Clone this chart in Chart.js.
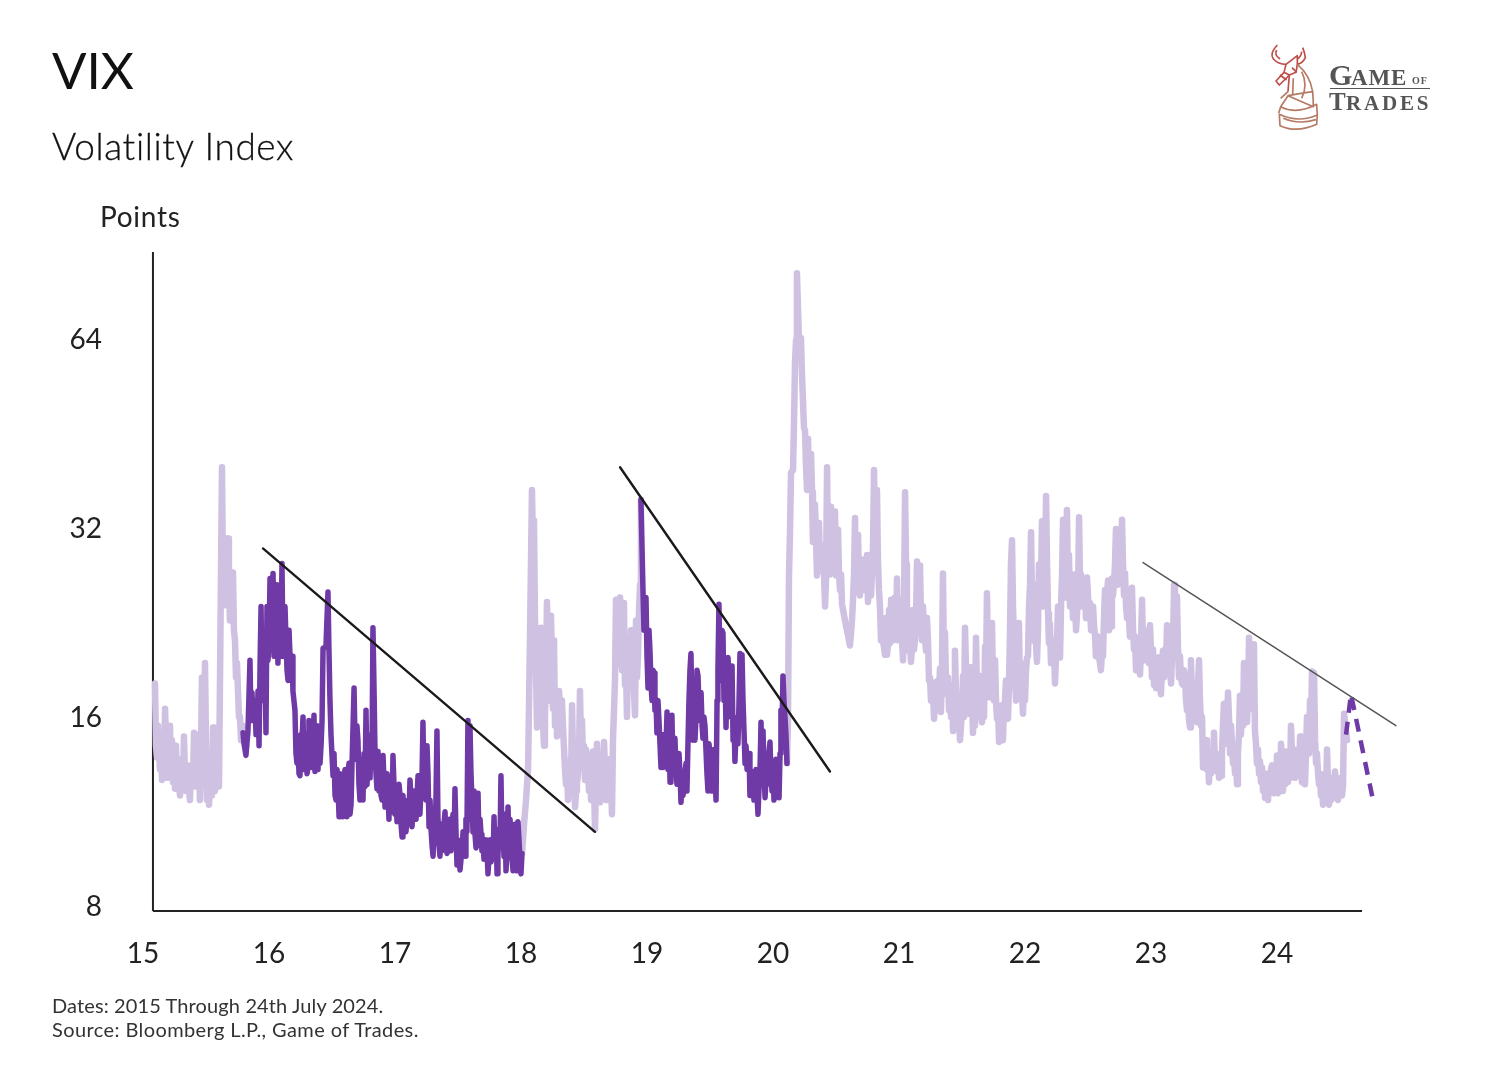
<!DOCTYPE html>
<html>
<head>
<meta charset="utf-8">
<title>VIX</title>
<script src="https://cdn.jsdelivr.net/npm/chart.js@4"></script>
<style>
    html, body { margin: 0; padding: 0; background: #fff; }
    body { width: 1510px; height: 1070px; position: relative; overflow: hidden; font-family: Lato, sans-serif; color: #111; font-variant-ligatures: none; }
    #wrap { position: absolute; left: 0; top: 0; width: 1510px; height: 1070px; }
    .txt { position: absolute; white-space: nowrap; line-height: 1; }
    #title { left: 52px; top: 44px; font-size: 51px; font-weight: 400; }
    #subtitle { left: 52px; top: 127px; font-size: 37px; font-weight: 300; letter-spacing: 0.6px; color: #111; -webkit-text-stroke: 0.3px #111; }
    #unit { left: 100px; top: 202px; font-size: 28px; font-weight: 400; letter-spacing: 0.7px; color: #222; }
    #note1 { left: 52px; top: 995px; font-size: 20px; color: #333; font-weight: 400; letter-spacing: 0.12px; }
    #note2 { left: 52px; top: 1019px; font-size: 20px; color: #333; font-weight: 400; letter-spacing: 0.4px; }
    .logo { font-family: "Liberation Serif", serif; color: #555; font-weight: bold; }
</style>
</head>
<body>
<div id="wrap"><canvas id="vixChart" width="1510" height="1070"></canvas></div>
<div class="txt" id="title">VIX</div>
<div class="txt" id="subtitle">Volatility Index</div>
<div class="txt" id="unit">Points</div>
<div class="txt" id="note1">Dates: 2015 Through 24th July 2024.</div>
<div class="txt" id="note2">Source: Bloomberg L.P., Game of Trades.</div>

<svg style="position:absolute;left:1260px;top:35px" width="180" height="100" viewBox="0 0 540 300" fill="none" stroke-width="5" stroke-linejoin="round">
    <g stroke="#bd4f48">
        <path d="M52 30 Q28 55 40 72 Q55 88 78 88 L112 62 L112 88 Q128 85 136 68 Q134 52 128 38"/>
        <path d="M78 88 L72 112 L48 138 L58 150 L88 120 L108 112 L112 88"/>
        <path d="M72 112 L88 120 L84 170 M96 98 L110 112 M60 120 L80 135 M50 45 Q42 60 60 72 M125 50 Q124 65 112 72"/>
    </g>
    <g stroke="#b57a64">
        <path d="M112 88 Q150 120 158 170 Q160 195 160 215 L84 182 L62 215 L56 235"/>
        <path d="M62 215 Q110 240 170 208 L172 240 Q115 265 58 238 L60 272 Q110 295 170 268 L172 240"/>
        <path d="M84 170 L62 190 M125 110 Q145 150 125 190 M84 182 Q125 175 158 170 M70 250 Q115 270 168 254 M100 130 L98 178"/>
    </g>
</svg>
<div class="txt logo" style="left:1329px;top:60px;font-size:30px">G</div>
<div class="txt logo" style="left:1351px;top:66px;font-size:23px;letter-spacing:0.8px">AME</div>
<div class="txt logo" style="left:1412px;top:76px;font-size:10px;letter-spacing:1px">OF</div>
<div style="position:absolute;left:1330px;top:88px;width:100px;height:1px;background:#555"></div>
<div class="txt logo" style="left:1329px;top:89px;font-size:25px">T</div>
<div class="txt logo" style="left:1346px;top:93px;font-size:21px;letter-spacing:2.8px">RADES</div>

<script>
// fecha en anos (15 = 2015) y nivel del VIX
const yearLabels = [15, 16, 17, 18, 19, 20, 21, 22, 23, 24];
const pointLabels = [8, 16, 32, 64];

const lightA = [[15.095,18.1],[15.103,14.4],[15.119,15.5],[15.135,13.2],[15.151,12.7],[15.175,16.5],[15.198,12.8],[15.214,15.5],[15.230,14.7],[15.246,13.7],[15.254,12.3],[15.278,13.7],[15.294,12.0],[15.310,13.2],[15.325,14.9],[15.341,12.2],[15.357,13.2],[15.373,11.8],[15.389,13.0],[15.405,15.1],[15.421,15.0],[15.437,14.7],[15.452,11.8],[15.468,18.5],[15.492,19.5],[15.5,14.7],[15.508,11.8],[15.524,11.6],[15.548,12.0],[15.556,15.4],[15.571,12.2],[15.587,13.2],[15.603,12.4],[15.611,18.3],[15.627,40.0],[15.643,30.9],[15.659,24.1],[15.675,30.8],[15.690,22.8],[15.714,27.2],[15.730,21.2],[15.754,17.6],[15.778,14.7],[15.794,15.5],[15.817,14.4]];
const lightAFill = [[15.111,13.8],[15.127,14.0],[15.143,14.8],[15.159,14],[15.167,12.8],[15.183,14.5],[15.19,14.0],[15.206,13.8],[15.222,13.0],[15.238,12.6],[15.262,14.4],[15.27,12.4],[15.286,12.4],[15.302,13.5],[15.317,12.3],[15.333,13.0],[15.349,13.4],[15.365,12.2],[15.381,13.4],[15.397,12.6],[15.413,12.4],[15.429,13.0],[15.444,13.2],[15.46,14.0],[15.476,12.8],[15.484,14.5],[15.516,13.5],[15.532,12.6],[15.54,13.0],[15.563,13.5],[15.579,12.5],[15.595,12.8],[15.635,26],[15.651,28],[15.667,26],[15.682,26],[15.70,24],[15.722,22],[15.738,18.5],[15.746,19.5],[15.762,16],[15.77,16]];

const darkA = [[15.794,15.1],[15.802,14.5],[15.817,13.9],[15.833,15.2],[15.849,19.7],[15.873,15.8],[15.897,15.0],[15.913,17.6],[15.921,14.4],[15.929,19.3],[15.937,24.0],[15.952,20.4],[15.960,17.6],[15.976,15.1],[15.992,19.7],[16.008,26.6],[16.024,22.0],[16.032,27.1],[16.048,21.6],[16.063,23.7],[16.071,19.5],[16.087,22.8],[16.103,28.1],[16.119,22.0],[16.135,21.2],[16.151,18.3],[16.159,22.0],[16.175,18.3],[16.190,17.6],[16.206,16.4],[16.222,13.5],[16.230,14.7],[16.246,12.9],[16.262,14.7],[16.270,16.0],[16.286,13.7],[16.302,13.0],[16.317,15.8],[16.333,13.7],[16.341,13.3],[16.357,16.1],[16.373,14.0],[16.389,13.2],[16.397,15.2],[16.413,14.4],[16.421,15.8],[16.429,20.6],[16.452,20.7],[16.468,25.3],[16.476,20.4],[16.484,17.0],[16.492,15.0],[16.508,12.9],[16.524,12.0],[16.540,13.2],[16.556,11.1],[16.571,12.5],[16.587,11.1],[16.603,13.2],[16.619,11.1],[16.635,13.5],[16.651,11.6],[16.675,17.8],[16.690,13.7],[16.706,14.7],[16.722,11.8],[16.738,13.7],[16.762,12.4],[16.770,16.4],[16.786,13.7],[16.802,12.8],[16.825,22.2],[16.841,14.2],[16.865,14.1],[16.873,12.2],[16.889,12.0],[16.905,13.9],[16.921,11.5],[16.937,13.0],[16.952,11.0],[16.968,11.8],[16.984,13.9],[17.000,11.2],[17.016,10.9],[17.032,12.5],[17.048,10.8],[17.056,10.3],[17.071,11.4],[17.087,10.5],[17.103,11.8],[17.119,12.7],[17.135,10.7],[17.151,12.2],[17.167,11.0],[17.183,12.9],[17.198,11.2],[17.214,12.7],[17.222,15.7],[17.238,13.2],[17.254,14.4],[17.270,10.7],[17.286,10.6],[17.302,9.6],[17.317,10.2],[17.325,11.8],[17.333,15.2],[17.341,11.0],[17.357,9.6],[17.381,10.4],[17.397,11.3],[17.413,9.7],[17.429,11.0],[17.444,9.8],[17.460,11.2],[17.476,12.3],[17.492,9.3],[17.516,9.13],[17.532,9.8],[17.548,10.0],[17.563,11.0],[17.579,15.8],[17.595,15.5],[17.611,11.8],[17.627,12.2],[17.643,9.9],[17.659,12.1],[17.675,11.0],[17.690,9.8],[17.706,9.5],[17.722,10.2],[17.738,9.0],[17.754,10.2],[17.770,9.8],[17.786,11.1],[17.810,9.0],[17.825,10.6],[17.841,12.9],[17.857,10.6],[17.873,11.2],[17.881,9.1],[17.897,11.5],[17.913,11.0],[17.929,9.5],[17.937,9.1],[17.952,10.8],[17.968,9.1],[17.976,10.9],[17.992,9.5],[18.000,9.0],[18.008,9.7]];
const darkAFill = [[15.857,15.8],[15.865,17.5],[15.889,17.0],[15.905,15.2],[15.945,17.0],[15.968,20],[15.984,24],[16.0,21],[16.016,22],[16.04,20],[16.056,26],[16.079,25],[16.095,20],[16.111,20],[16.127,24],[16.143,19.0],[16.167,20],[16.183,20],[16.214,14.0],[16.238,13.0],[16.254,15.0],[16.278,13.2],[16.294,15.0],[16.31,13.3],[16.325,13.4],[16.349,14.6],[16.365,13.1],[16.381,15.5],[16.405,13.5],[16.516,14.0],[16.532,11.8],[16.548,12.3],[16.563,13.0],[16.579,11.6],[16.595,12.5],[16.611,12.0],[16.627,13.0],[16.643,11.2],[16.659,13.5],[16.667,15.5],[16.683,14.5],[16.698,15.5],[16.714,12.5],[16.73,13.0],[16.746,11.8],[16.754,14.0],[16.778,12.5],[16.794,14.5],[16.81,15.0],[16.817,13.5],[16.833,18],[16.849,13.0],[16.857,12.3],[16.881,13.0],[16.897,11.8],[16.913,12.6],[16.929,12.5],[16.945,12.0],[16.96,12.8],[16.976,11.3],[16.992,12.5],[17.008,12.0],[17.024,11.5],[17.04,12.0],[17.063,12.0],[17.079,10.8],[17.095,11.0],[17.111,11.2],[17.127,11.8],[17.143,11.4],[17.159,11.0],[17.175,12.0],[17.19,11.5],[17.206,12.3],[17.23,12.2],[17.246,11.8],[17.262,13.0],[17.278,11.8],[17.294,10.0],[17.31,10.8],[17.349,10.0],[17.365,10.8],[17.373,9.8],[17.389,10.8],[17.405,10.0],[17.421,10.5],[17.437,10.0],[17.452,10.6],[17.468,10.0],[17.484,10.5],[17.50,10.2],[17.524,9.5],[17.54,10.5],[17.556,9.6],[17.571,10.5],[17.587,11],[17.603,13.0],[17.619,10.5],[17.635,10.4],[17.651,11.0],[17.667,10.0],[17.683,10.4],[17.698,10.2],[17.714,9.8],[17.73,9.8],[17.746,9.6],[17.762,9.4],[17.778,9.5],[17.794,9.5],[17.802,10.6],[17.817,9.6],[17.833,10.0],[17.849,10.2],[17.865,9.6],[17.889,9.8],[17.905,10],[17.921,10.2],[17.945,9.6],[17.96,10.2],[17.984,10.2]];

const lightB = [[18.008,9.7],[18.024,10.8],[18.040,11.8],[18.056,13.2],[18.071,21.2],[18.087,36.8],[18.103,32.9],[18.111,22.8],[18.119,19.0],[18.127,15.4],[18.143,20.4],[18.151,17.0],[18.159,22.2],[18.175,15.5],[18.183,14.4],[18.198,18.3],[18.206,24.4],[18.222,17.0],[18.238,23.2],[18.246,19.7],[18.262,21.2],[18.278,17.6],[18.286,14.9],[18.302,17.6],[18.317,15.0],[18.333,15.5],[18.349,13.2],[18.357,12.5],[18.373,11.8],[18.389,12.4],[18.405,16.7],[18.421,12.7],[18.429,11.5],[18.437,12.2],[18.452,13.0],[18.460,13.7],[18.468,17.6],[18.484,15.8],[18.500,14.4],[18.508,12.7],[18.524,13.6],[18.540,12.2],[18.556,11.8],[18.571,14.1],[18.587,10.6],[18.603,14.5],[18.619,12.2],[18.627,11.7],[18.643,13.2],[18.659,14.6],[18.675,11.8],[18.690,13.7],[18.706,11.8],[18.722,11.2],[18.730,14.7],[18.746,18.3],[18.754,24.6],[18.770,19.7],[18.786,24.8],[18.802,19.0],[18.817,24.3],[18.833,19.3],[18.841,16.0],[18.857,19.7],[18.873,22.0],[18.889,19.0],[18.905,16.1],[18.913,22.8],[18.929,20.1],[18.937,23.7],[18.952,35.5]];
const lightBFill = [[18.095,30],[18.135,18],[18.167,17],[18.19,16],[18.214,19],[18.23,21],[18.254,16.5],[18.27,15.5],[18.294,16],[18.31,16.5],[18.325,17],[18.365,13.4],[18.381,13.6],[18.397,12.5],[18.413,13.8],[18.444,12.5],[18.476,14.5],[18.492,13.8],[18.516,14.2],[18.532,13.2],[18.548,13.5],[18.563,12.6],[18.579,12.8],[18.595,12.4],[18.611,12.8],[18.635,13.5],[18.651,12.5],[18.667,13.2],[18.682,13.0],[18.698,12.6],[18.714,13.0],[18.762,21],[18.778,20],[18.794,20],[18.81,22],[18.825,18],[18.849,20.0],[18.865,18],[18.881,20],[18.897,17.5],[18.921,18.5],[18.945,26]];

const darkB = [[18.952,35.5],[18.968,25.5],[18.984,24.6],[18.992,24.8],[19.008,17.8],[19.024,20.3],[19.040,17.0],[19.056,18.8],[19.063,16.4],[19.079,15.1],[19.095,15.8],[19.111,13.3],[19.127,13.3],[19.135,15.0],[19.159,16.3],[19.167,13.2],[19.183,12.6],[19.198,16.1],[19.214,14.0],[19.230,13.2],[19.254,14.0],[19.270,11.7],[19.286,12.0],[19.302,13.1],[19.317,12.2],[19.325,14.5],[19.341,19.0],[19.349,20.2],[19.365,14.7],[19.381,14.7],[19.397,19.0],[19.405,18.6],[19.421,15.8],[19.437,15.5],[19.452,16.0],[19.468,14.2],[19.476,13.0],[19.484,12.2],[19.500,14.0],[19.516,12.2],[19.532,14.2],[19.548,11.8],[19.556,17.0],[19.571,24.2],[19.587,18.3],[19.603,21.8],[19.619,19.0],[19.627,15.4],[19.643,19.9],[19.659,17.0],[19.675,19.3],[19.683,14.7],[19.698,13.6],[19.714,15.8],[19.730,16.8],[19.738,20.2],[19.754,20.1],[19.770,15.2],[19.786,14.4],[19.802,13.2],[19.817,12.0],[19.833,13.1],[19.849,11.8],[19.865,13.2],[19.881,11.2],[19.897,13.2],[19.905,15.7],[19.921,15.2],[19.937,11.9],[19.952,12.5],[19.976,14.6],[19.992,12.2],[20.008,11.8],[20.024,13.7],[20.032,12.0],[20.048,11.9],[20.063,16.4],[20.079,18.6],[20.087,17.0],[20.103,15.0],[20.111,13.5]];
const darkBFill = [[18.976,22],[19.0,20],[19.016,22],[19.032,18],[19.048,19],[19.071,17],[19.087,17],[19.103,14.5],[19.119,15],[19.143,13.5],[19.151,14.5],[19.175,15],[19.19,14],[19.206,13.2],[19.222,14.8],[19.238,12.5],[19.246,12.6],[19.262,13],[19.278,13],[19.294,12.5],[19.31,13.5],[19.333,17],[19.357,16],[19.373,17],[19.389,16],[19.413,16.5],[19.429,17.5],[19.444,14.8],[19.46,15.5],[19.492,14.5],[19.508,13.5],[19.524,14],[19.54,13],[19.563,19],[19.579,19],[19.595,22],[19.611,17],[19.635,18],[19.651,18.5],[19.667,16],[19.69,16],[19.706,15],[19.722,14.5],[19.746,16.5],[19.762,17],[19.778,13.5],[19.794,13.2],[19.81,14],[19.825,13],[19.841,12.6],[19.857,12.8],[19.873,12],[19.889,12.3],[19.913,13],[19.929,13],[19.945,12.8],[19.96,13.5],[19.984,13],[20.0,13],[20.016,12.6],[20.04,13.0],[20.056,14],[20.071,15],[20.095,16]];

const lightC = [[20.111,13.5],[20.119,15.8],[20.127,26.9],[20.135,31.6],[20.143,39.2],[20.159,39.6],[20.167,47.5],[20.175,59],[20.183,63.8],[20.190,81.5],[20.206,63.8],[20.222,64.3],[20.230,56.1],[20.246,46.2],[20.254,45.8],[20.270,36.8],[20.278,44.4],[20.294,36.8],[20.310,36.5],[20.317,30.4],[20.333,34.9],[20.349,26.9],[20.365,32.6],[20.381,30.1],[20.397,27.4],[20.413,24.0],[20.429,40.0],[20.444,30.6],[20.460,34.6],[20.484,30.1],[20.492,34.0],[20.500,26.9],[20.516,31.8],[20.532,25.5],[20.548,24.2],[20.563,23.3],[20.579,22.4],[20.595,21.6],[20.611,20.8],[20.627,22.8],[20.635,24.6],[20.651,33.2],[20.667,25.5],[20.675,31.2],[20.690,25.0],[20.706,28.5],[20.714,28.5],[20.730,25.5],[20.746,29.0],[20.754,24.4],[20.770,29.0],[20.786,27.4],[20.802,39.6],[20.817,35.5],[20.825,36.8],[20.833,28.5],[20.841,25.5],[20.857,21.2],[20.873,21.2],[20.889,20.1],[20.905,20.1],[20.921,23.7],[20.937,24.6],[20.952,21.2],[20.968,24.8],[20.984,26.6],[20.992,21.2],[21.008,24.6],[21.024,21.2],[21.032,19.7],[21.048,36.5],[21.063,21.2],[21.079,20.4],[21.095,19.6],[21.111,23.7],[21.127,21.2],[21.143,28.3],[21.159,24.6],[21.167,27.9],[21.183,21.2],[21.198,22.2],[21.214,20.4],[21.230,21.2],[21.238,18.3],[21.254,17.0],[21.270,17.6],[21.278,15.9],[21.294,18.2],[21.310,18.3],[21.325,19.1],[21.333,16.3],[21.349,27.1],[21.365,21.8],[21.381,17.4],[21.405,17.8],[21.429,15.2],[21.444,20.4],[21.468,15.8],[21.484,14.7],[21.508,18.6],[21.524,22.2],[21.548,17.4],[21.571,19.2],[21.587,15.1],[21.611,21.4],[21.643,18.6],[21.659,15.7],[21.683,20.7],[21.698,25.2],[21.714,17.2],[21.738,22.6],[21.762,19.7],[21.778,15.9],[21.794,14.6],[21.817,16.7],[21.825,14.7],[21.849,18.3],[21.865,15.9],[21.889,28.2],[21.897,30.6],[21.921,18.3],[21.952,22.6],[21.984,16.2],[22.016,19.9],[22.048,31.5],[22.063,21.2],[22.095,19.6],[22.111,28.0],[22.135,32.8],[22.151,30.1],[22.167,36.0],[22.183,23.4],[22.214,21.2],[22.238,18.1],[22.262,24.0],[22.278,19.9],[22.302,33.0],[22.317,24.8],[22.333,34.2],[22.373,25.5],[22.413,23.4],[22.429,33.3],[22.460,26.4],[22.492,26.7],[22.516,24.3],[22.548,22.4],[22.571,20.8],[22.603,19.0],[22.635,25.5],[22.659,26.4],[22.683,22.3],[22.690,26.6],[22.722,31.9],[22.746,28.0],[22.770,33.0],[22.794,27.1],[22.817,25.2],[22.849,25.7],[22.857,22.2],[22.889,19.9],[22.913,18.7],[22.929,24.6],[22.952,19.7],[22.992,22.4],[23.024,18.0],[23.056,19.9],[23.079,17.4],[23.095,20.4],[23.127,22.4],[23.159,18.1],[23.183,26.0],[23.206,24.9],[23.214,20.7],[23.246,18.1],[23.270,18.6],[23.286,16.4],[23.310,15.4],[23.317,19.7],[23.349,17.0],[23.365,15.7],[23.381,19.7],[23.405,16.0],[23.413,13.3],[23.437,14.7],[23.460,12.6],[23.500,15.1],[23.524,13.1],[23.556,12.9],[23.579,16.8],[23.611,17.5],[23.643,14.5],[23.683,12.5],[23.706,17.3],[23.738,19.5],[23.762,15.7],[23.778,21.4],[23.817,20.9],[23.825,15.2],[23.865,13.6],[23.889,12.2],[23.929,11.8],[23.960,13.4],[23.976,12.1],[24.000,13.9],[24.008,12.1],[24.032,14.5],[24.048,12.2],[24.071,14.1],[24.087,12.6],[24.111,15.5],[24.127,13.2],[24.159,12.9],[24.183,14.9],[24.222,12.5],[24.238,16.0],[24.278,18.9],[24.294,18.8],[24.302,14.7],[24.325,13.1],[24.349,12.0],[24.365,11.6],[24.397,14.2],[24.413,11.6],[24.437,12.7],[24.460,13.1],[24.484,11.8],[24.524,12.4],[24.532,16.2],[24.556,14.7]];
const lightCFill = [[20.262,40],[20.286,38],[20.302,42],[20.325,31],[20.341,31],[20.357,30],[20.373,27.5],[20.389,30],[20.405,27],[20.421,26.5],[20.437,28],[20.452,27],[20.468,28],[20.476,32],[20.508,29],[20.524,27],[20.54,27],[20.643,27],[20.659,26],[20.683,26],[20.698,27],[20.722,26],[20.738,27],[20.762,27],[20.778,25],[20.794,30],[20.81,31],[20.849,24],[20.865,23],[20.897,23],[20.913,21],[20.929,21],[20.945,23],[20.96,22],[20.976,21.5],[21.0,21.5],[21.016,21.5],[21.04,24],[21.056,28],[21.071,23],[21.087,21],[21.103,20.5],[21.119,20.5],[21.135,23],[21.151,22],[21.175,22.5],[21.19,24],[21.206,21.5],[21.222,23],[21.246,18.5],[21.262,18],[21.286,16.8],[21.302,17],[21.317,17],[21.341,19],[21.357,19],[21.373,18],[21.389,18.5],[21.397,16.4],[21.413,16],[21.421,18],[21.437,16.5],[21.452,17.5],[21.46,17],[21.476,16],[21.492,15.5],[21.5,16.5],[21.516,16],[21.532,19],[21.54,18],[21.556,16.2],[21.563,17],[21.579,17.5],[21.595,17],[21.603,15.5],[21.619,17.5],[21.627,16],[21.635,18.5],[21.651,16.5],[21.667,17.5],[21.675,16],[21.69,18],[21.706,20],[21.722,19.5],[21.73,18],[21.746,18],[21.754,17],[21.77,17],[21.786,16.5],[21.802,16],[21.81,15],[21.833,16.5],[21.841,17],[21.857,16],[21.873,18],[21.881,22],[21.905,24],[21.913,21],[21.929,17],[21.937,20],[21.945,18.5],[21.96,18],[21.968,19.5],[21.976,17.5],[21.992,18],[22.0,17],[22.008,19],[22.024,20],[22.032,24],[22.04,26],[22.056,24],[22.071,23],[22.079,26],[22.087,21],[22.103,22],[22.119,25],[22.127,26],[22.143,24],[22.159,26],[22.175,28],[22.19,21],[22.198,22.5],[22.206,19.5],[22.222,19.5],[22.23,20.5],[22.246,20],[22.254,21],[22.27,22],[22.286,24],[22.294,27],[22.31,28],[22.325,28],[22.341,26],[22.349,29],[22.357,24],[22.365,26.5],[22.381,23],[22.389,27],[22.397,25],[22.405,22],[22.421,25],[22.437,26],[22.444,27],[22.452,24],[22.468,24],[22.476,25.5],[22.484,23],[22.5,25],[22.508,23],[22.524,22],[22.54,24],[22.556,21.5],[22.563,20],[22.579,21.5],[22.587,20],[22.595,19.5],[22.611,20.5],[22.619,20],[22.627,23],[22.643,23],[22.651,25],[22.667,22],[22.675,25],[22.698,25],[22.706,26],[22.714,28],[22.73,29],[22.738,26],[22.754,28],[22.762,30],[22.778,28],[22.786,25],[22.802,24],[22.81,23],[22.825,23],[22.833,21.5],[22.841,24],[22.865,20.5],[22.873,21.5],[22.881,19],[22.897,20.5],[22.905,19.5],[22.921,21],[22.937,20.5],[22.945,22],[22.96,21],[22.968,20],[22.976,21.5],[22.984,19.5],[23.0,20.5],[23.008,18.5],[23.016,20.5],[23.032,19],[23.04,17.8],[23.048,18.5],[23.063,19.5],[23.071,18],[23.087,19],[23.103,18.5],[23.111,20.5],[23.119,19],[23.135,19.5],[23.143,21],[23.151,19],[23.167,20],[23.175,21],[23.19,24],[23.198,20],[23.222,18.5],[23.23,20],[23.238,18.5],[23.254,18],[23.262,19],[23.278,17],[23.294,17.5],[23.302,15.8],[23.325,17.5],[23.333,15.8],[23.341,16.5],[23.357,16],[23.373,18],[23.389,17],[23.397,15.5],[23.421,14],[23.429,13.5],[23.444,13.2],[23.452,14],[23.468,13.8],[23.476,13],[23.484,14],[23.492,13.2],[23.508,13.5],[23.516,14],[23.532,13.5],[23.54,12.8],[23.548,13.6],[23.563,14],[23.571,15.5],[23.587,15],[23.595,16],[23.603,14.5],[23.619,16],[23.627,14],[23.635,15.5],[23.651,13.5],[23.659,13.8],[23.667,13],[23.675,13.6],[23.69,14],[23.698,15],[23.714,15],[23.722,16.5],[23.73,15.5],[23.746,16.5],[23.754,18],[23.77,17],[23.786,18],[23.794,16.5],[23.802,20],[23.81,17],[23.833,14.5],[23.841,13.5],[23.849,14.2],[23.857,13],[23.873,12.6],[23.881,13.3],[23.897,12.8],[23.905,11.9],[23.913,13],[23.921,12.6],[23.937,13],[23.945,12.3],[23.952,13.2],[23.968,12.6],[23.984,13.3],[23.992,12.3],[24.016,13.4],[24.024,12.4],[24.04,13.5],[24.056,13.8],[24.063,12.5],[24.079,13.2],[24.095,13.4],[24.103,12.8],[24.119,14],[24.135,14.2],[24.143,12.8],[24.151,14],[24.167,14],[24.175,13],[24.19,13.5],[24.198,12.6],[24.206,13.8],[24.214,12.8],[24.23,14],[24.246,15],[24.254,14],[24.262,17],[24.27,15.5],[24.286,15.5],[24.31,13.5],[24.317,14],[24.333,12.5],[24.341,13],[24.357,12.5],[24.373,12],[24.381,13],[24.389,12],[24.405,12.5],[24.421,12.8],[24.429,11.8],[24.444,12.4],[24.452,11.9],[24.468,12.6],[24.476,12],[24.492,12.4],[24.5,12],[24.508,12.8],[24.516,12]];

const projection = [[24.548,15.0],[24.587,17.4],[24.762,11.8]];

const trendA = [[15.952,29.7],[18.587,10.5]];
const trendB = [[18.786,40.0],[20.452,13.1]];
const trendC = [[22.937,28.2],[24.944,15.5]];

const xMin = 15, xMax = 25;
const yMin = 7.854, yMax = 88.1;
const axisX = 15.079, axisEnd = 24.675;

const LIGHT = '#cfc1e1';
const DARK = '#6f3aa6';
const AXIS = '#222222';

function toPoints(rows) {
    return rows.map(r => ({ x: r[0], y: r[1] }));
}

// junta las dos lecturas del mismo tramo en orden de fecha
function merged(rows, fill) {
    return rows.concat(fill).sort((a, b) => a[0] - b[0]);
}

function lineSet(rows, color, width, extra) {
    return Object.assign({
        data: toPoints(rows),
        borderColor: color,
        borderWidth: width,
        pointRadius: 0,
        tension: 0,
        fill: false,
        clip: false,
        borderJoinStyle: 'round',
        borderCapStyle: 'round'
    }, extra || {});
}

const ctx = document.getElementById('vixChart').getContext('2d');
new Chart(ctx, {
    type: 'line',
    data: {
        datasets: [
            lineSet(trendA, '#1a1a1a', 2.4),
            lineSet(trendB, '#1a1a1a', 2.4),
            lineSet(trendC, '#555555', 1.5),
            lineSet(projection, DARK, 4.5, { borderDash: [13, 9], borderCapStyle: 'butt' }),
            lineSet(merged(darkA, darkAFill), DARK, 5.5),
            lineSet(merged(darkB, darkBFill), DARK, 5.5),
            lineSet(merged(lightA, lightAFill), LIGHT, 6.5),
            lineSet(merged(lightB, lightBFill), LIGHT, 6.5),
            lineSet(merged(lightC, lightCFill), LIGHT, 6.5),
            lineSet([[axisX, yMin], [axisX, yMax]], AXIS, 2, { borderCapStyle: 'butt' }),
            lineSet([[axisX, yMin], [axisEnd, yMin]], AXIS, 2, { borderCapStyle: 'butt' })
        ]
    },
    options: {
        responsive: false,
        animation: false,
        layout: { padding: { top: 252, right: 107, left: 0, bottom: 0 } },
        plugins: { legend: { display: false }, tooltip: { enabled: false }, title: { display: false } },
        scales: {
            x: {
                type: 'linear',
                min: xMin,
                max: xMax,
                grid: { display: false, drawTicks: false },
                border: { display: false },
                afterFit: s => { s.height = 159; },
                afterBuildTicks: s => { s.ticks = yearLabels.map(v => ({ value: v })); },
                ticks: {
                    autoSkip: false,
                    maxRotation: 0,
                    padding: 26,
                    color: '#222',
                    font: { family: 'Lato', size: 28, weight: '400' },
                    callback: v => String(v)
                }
            },
            y: {
                type: 'logarithmic',
                min: yMin,
                max: yMax,
                grid: { display: false, drawTicks: false },
                border: { display: false },
                afterFit: s => { s.width = 143; },
                afterBuildTicks: s => { s.ticks = pointLabels.map(v => ({ value: v })); },
                ticks: {
                    autoSkip: false,
                    padding: 41,
                    labelOffset: 1,
                    color: '#222',
                    font: { family: 'Lato', size: 28, weight: '400' },
                    callback: v => String(v)
                }
            }
        }
    }
});
</script>
</body>
</html>
